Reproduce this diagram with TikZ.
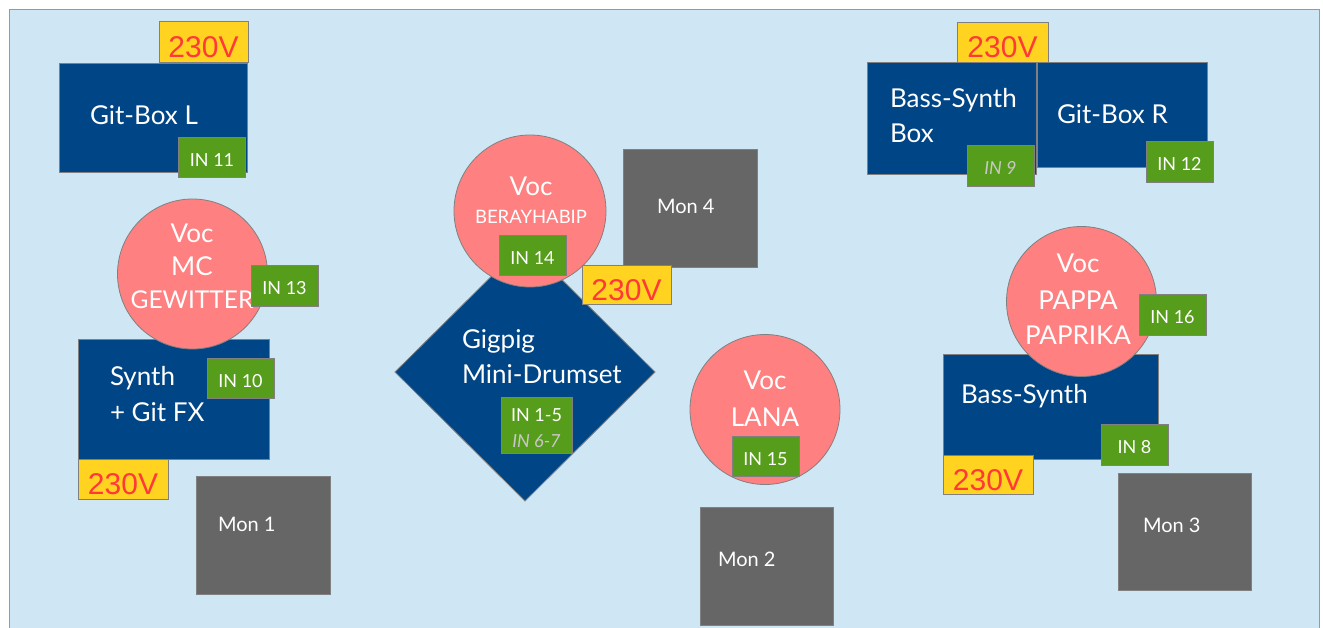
\documentclass[tikz,border=0pt]{standalone}
\usepackage{fontspec}
\setmainfont{Lato}
\newfontfamily\arialf{Liberation Sans}
\usetikzlibrary{shapes.geometric}
\definecolor{bgblue}{RGB}{207,230,244}
\definecolor{dblue}{RGB}{0,69,134}
\definecolor{vpink}{RGB}{255,128,128}
\definecolor{ggreen}{RGB}{87,157,28}
\definecolor{vyellow}{RGB}{255,211,32}
\definecolor{vred}{RGB}{255,56,56}
\definecolor{mgray}{RGB}{102,102,102}
\definecolor{edgegray}{RGB}{128,128,128}
\definecolor{itgray}{RGB}{200,200,200}
\begin{document}
\begin{tikzpicture}[x=1pt,y=-1pt,
  every node/.style={inner sep=0pt, outer sep=0pt},
  shp/.style={draw=edgegray, line width=0.8pt},
  bluebox/.style={shp, rectangle, fill=dblue},
  ingreen/.style={shp, rectangle, fill=ggreen, text=white, font=\fontsize{18}{20}\selectfont, text height=18pt, text depth=0pt, minimum width=67pt, minimum height=41pt},
  voltbox/.style={shp, rectangle, fill=vyellow, text=vred, font=\arialf\fontsize{30}{32}\selectfont, text height=31pt, text depth=0pt, minimum width=90pt, minimum height=40pt},
  monbox/.style={shp, rectangle, fill=mgray, minimum width=134pt, minimum height=118pt},
  vocc/.style={shp, circle, fill=vpink, minimum size=150pt},
  biglbl/.style={text=white, font=\fontsize{26}{30}\selectfont, anchor=base west},
  ctrlbl/.style={text=white, font=\fontsize{26}{30}\selectfont, anchor=base},
  smctr/.style={text=white, font=\fontsize{18.5}{20}\selectfont, anchor=base},
  monlbl/.style={text=white, font=\fontsize{20}{24}\selectfont, anchor=base west},
  itlbl/.style={text=itgray, font=\fontsize{18}{20}\selectfont\itshape, anchor=base}
]
\useasboundingbox (0,0) rectangle (1323,627);
\fill[white] (0,0) rectangle (1323,627);
\draw[fill=bgblue, draw=edgegray!80, line width=1pt] (9,9) rectangle (1319,640);

% ---- left top: Git-Box L
\node[bluebox, minimum width=188pt, minimum height=109pt] (gitL) at (153,117.5) {};
\node[biglbl] (gitLt) at (90,124) {Git-Box L};
\node[voltbox, minimum width=89pt, minimum height=41pt] (vL1) at (203.5,41.5) {230V};
\node[ingreen, minimum height=40pt] (in11) at (212,157) {IN 11};

% ---- left middle: Synth + Git FX and Voc MC GEWITTER
\node[bluebox, minimum width=191pt, minimum height=120pt] (synth) at (173.5,399) {};
\node[vocc] (vocMC) at (192.5,274) {};
\node[ctrlbl] (vocMCa) at (192,242) {Voc};
\node[ctrlbl] (vocMCb) at (192,275) {MC};
\node[ctrlbl, font=\fontsize{24.5}{30}\selectfont] (vocMCc) at (192,308) {GEWITTER};
\node[ingreen] (in13) at (284.5,285.5) {IN 13};
\node[biglbl] (synthA) at (110,385) {Synth};
\node[biglbl] (synthB) at (110,421) {+ Git FX};
\node[ingreen, minimum height=40pt] (in10) at (240.5,378) {IN 10};
\node[voltbox] (vL2) at (123,479) {230V};
\node[monbox] (mon1) at (263,535) {};
\node[monlbl] (mon1t) at (218,531) {Mon 1};

% ---- center: drumset, Voc BERAYHABIP, Mon 4
\node[shp, diamond, fill=dblue, minimum width=260pt, minimum height=258pt] (drum) at (525,372) {};
\node[vocc, minimum size=152pt] (vocBH) at (530,211) {};
\node[ctrlbl] (vocBHa) at (531,195) {Voc};
\node[smctr] (vocBHb) at (531,223) {BERAYHABIP};
\node[ingreen, minimum height=40pt] (in14) at (532.5,255) {IN 14};
\node[biglbl] (drumA) at (462,348) {Gigpig};
\node[biglbl] (drumB) at (462,383) {Mini-Drumset};
\node[shp, rectangle, fill=ggreen, minimum width=71pt, minimum height=56pt] (in15box) at (536.5,425) {};
\node[text=white, font=\fontsize{18}{20}\selectfont, anchor=base] (in15t) at (536.5,421) {IN 1-5};
\node[itlbl] (in67t) at (536.5,447) {IN 6-7};
\node[monbox] (mon4) at (690,208) {};
\node[monlbl] (mon4t) at (657,213) {Mon 4};
\node[voltbox, minimum width=89pt, minimum height=39pt] (vC) at (626.5,284.5) {230V};

% ---- Voc LANA, Mon 2
\node[vocc] (vocL) at (765,409.5) {};
\node[ctrlbl] (vocLa) at (765,389) {Voc};
\node[ctrlbl] (vocLb) at (765,426) {LANA};
\node[ingreen, minimum height=40pt] (in15) at (765.5,456) {IN 15};
\node[monbox, minimum width=133pt] (mon2) at (766.5,566) {};
\node[monlbl] (mon2t) at (718,566) {Mon 2};

% ---- right top: Bass-Synth Box, Git-Box R
\node[bluebox, minimum width=169pt, minimum height=112pt] (bsbox) at (951.5,118) {};
\node[bluebox, minimum width=170pt, minimum height=105pt] (gitR) at (1122,114.5) {};
\node[biglbl] (bsboxA) at (890,107) {Bass-Synth};
\node[biglbl] (bsboxB) at (890,142) {Box};
\node[biglbl] (gitRt) at (1057,123) {Git-Box R};
\node[voltbox, minimum width=91pt] (vR1) at (1002.5,42) {230V};
\node[shp, rectangle, fill=ggreen, minimum width=67pt, minimum height=41pt] (in9) at (1000.5,165.5) {};
\node[itlbl] (in9t) at (1000.5,174.5) {IN 9};
\node[ingreen] (in12) at (1179.5,161.5) {IN 12};

% ---- right middle: Bass-Synth, Voc PAPPA PAPRIKA, Mon 3
\node[bluebox, minimum width=215pt, minimum height=105pt] (bs) at (1050.5,406.5) {};
\node[vocc] (vocP) at (1081.5,301.5) {};
\node[ctrlbl] (vocPa) at (1078,272) {Voc};
\node[ctrlbl] (vocPb) at (1078,309) {PAPPA};
\node[ctrlbl] (vocPc) at (1078,344) {PAPRIKA};
\node[ingreen] (in16) at (1172.5,314.5) {IN 16};
\node[biglbl] (bst) at (961,403) {Bass-Synth};
\node[ingreen] (in8) at (1134.5,444.5) {IN 8};
\node[voltbox, minimum height=39pt] (vR2) at (988,474.5) {230V};
\node[monbox, minimum width=133pt, minimum height=117pt] (mon3) at (1184.5,531.5) {};
\node[monlbl] (mon3t) at (1143,532) {Mon 3};
\end{tikzpicture}
\end{document}
